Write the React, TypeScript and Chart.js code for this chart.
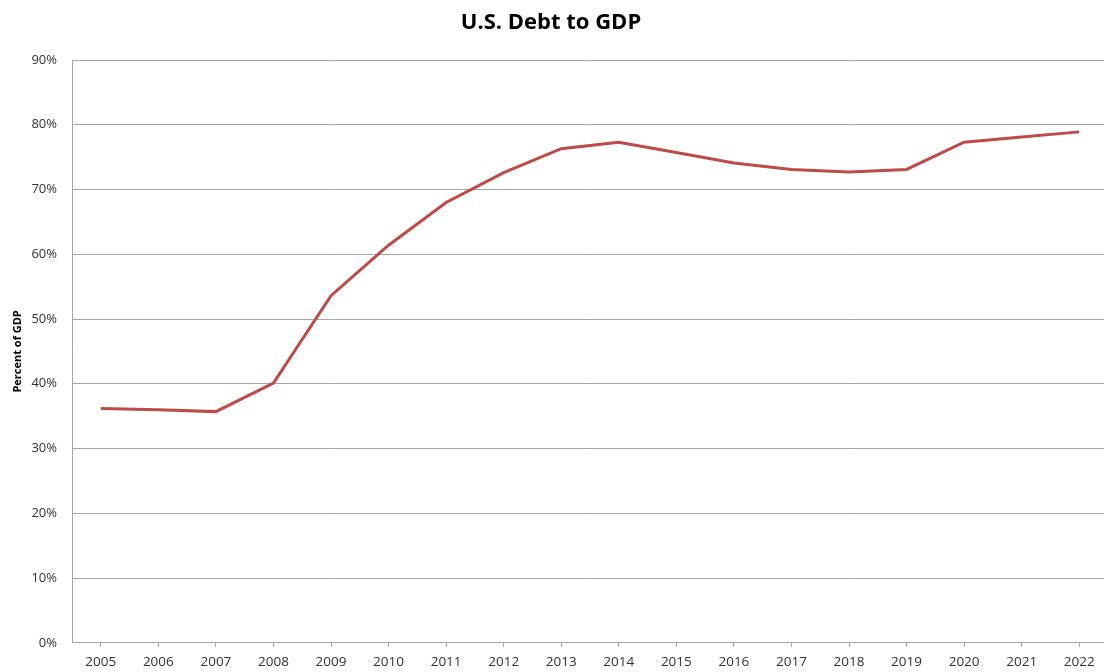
import React, { useEffect, useRef } from "react";
import { Chart, registerables } from "chart.js";

Chart.register(...registerables);

const years = ["2005","2006","2007","2008","2009","2010","2011","2012","2013","2014","2015","2016","2017","2018","2019","2020","2021","2022"];
const debtToGdp = [36.2, 36.0, 35.7, 40.1, 53.6, 61.4, 68.0, 72.6, 76.3, 77.3, 75.7, 74.1, 73.1, 72.7, 73.1, 77.3, 78.1, 78.9];
const yTicks = [0, 10, 20, 30, 40, 50, 60, 70, 80, 90];

const titleText = "U.S. Debt to GDP";
const yAxisTitle = "Percent of GDP";

const titlePlugin = {
  id: "centeredTitle",
  afterDraw(chart: any) {
    const ctx = chart.ctx;
    ctx.save();
    ctx.fillStyle = "#000";
    ctx.font = "bold 22px 'Open Sans'";
    ctx.textAlign = "center";
    ctx.textBaseline = "middle";
    ctx.fillText(titleText, 551, 23);
    ctx.restore();
  },
};

export default function App() {
  const ref = useRef<HTMLCanvasElement | null>(null);

  useEffect(() => {
    if (!ref.current) return;
    const grid = "#a6a6a6";
    const chart = new Chart(ref.current, {
      type: "line",
      data: {
        labels: years,
        datasets: [
          {
            data: debtToGdp,
            borderColor: "#be4b48",
            borderWidth: 3,
            pointRadius: 0,
            tension: 0,
            fill: false,
          },
        ],
      },
      plugins: [titlePlugin],
      options: {
        responsive: false,
        animation: false,
        layout: { padding: { left: 5, right: 4, top: 60, bottom: 0 } },
        plugins: {
          legend: { display: false },
          tooltip: { enabled: false },
          title: { display: false },
        },
        scales: {
          x: {
            offset: true,
            grid: {
              display: true,
              drawOnChartArea: false,
              drawTicks: true,
              tickLength: 4,
              color: grid,
              offset: false,
            },
            border: { display: true, color: grid, width: 1 },
            ticks: {
              color: "#333",
              font: { family: "Open Sans", size: 13.5 },
              padding: 7,
              maxRotation: 0,
              autoSkip: false,
            },
          },
          y: {
            min: 0,
            max: 90,
            afterBuildTicks: (scale: any) => {
              scale.ticks = yTicks.map((v) => ({ value: v }));
            },
            afterFit: (scale: any) => {
              scale.width = 67;
            },
            grid: { color: grid, drawTicks: false, lineWidth: 1 },
            border: { display: true, color: grid, width: 1 },
            ticks: {
              color: "#333",
              font: { family: "Open Sans", size: 13 },
              padding: 15,
              callback: (v: any) => v + "%",
            },
            title: {
              display: true,
              text: yAxisTitle,
              color: "#000",
              font: { family: "Open Sans", size: 11, weight: "bold" },
              padding: { top: 6, bottom: 0 },
            },
          },
        },
      },
    });
    return () => chart.destroy();
  }, []);

  return (
    <div style={{ position: "fixed", left: 0, top: 0, width: 1104, height: 672, background: "#fff", overflow: "hidden" }}>
      <canvas ref={ref} width={1112} height={677} />
    </div>
  );
}
